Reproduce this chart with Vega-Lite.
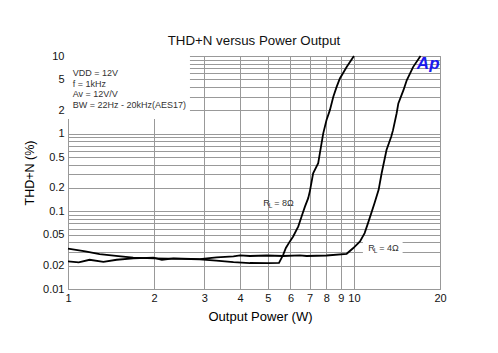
{
  "$schema": "https://vega.github.io/schema/vega-lite/v6.json",
  "width": 372,
  "height": 233,
  "autosize": {"type": "none"},
  "padding": {"left": 68, "top": 56, "right": 58, "bottom": 64},
  "background": "white",
  "title": {"text": "THD+N versus Power Output", "fontSize": 13.3, "fontWeight": "normal", "font": "Liberation Sans", "offset": 3, "color": "#111"},
  "config": {
    "view": {"stroke": "#888", "strokeWidth": 1},
    "font": "Liberation Sans"
  },
  "datasets": {
    "curves": [
      {"load": "8", "power": 1.0, "thdn": 0.033},
      {"load": "8", "power": 1.15, "thdn": 0.0305},
      {"load": "8", "power": 1.29, "thdn": 0.0282},
      {"load": "8", "power": 1.5, "thdn": 0.0265},
      {"load": "8", "power": 1.69, "thdn": 0.0253},
      {"load": "8", "power": 2.0, "thdn": 0.0248},
      {"load": "8", "power": 2.5, "thdn": 0.0245},
      {"load": "8", "power": 2.89, "thdn": 0.024},
      {"load": "8", "power": 3.3, "thdn": 0.0232},
      {"load": "8", "power": 3.79, "thdn": 0.0222},
      {"load": "8", "power": 4.33, "thdn": 0.0216},
      {"load": "8", "power": 5.0, "thdn": 0.0215},
      {"load": "8", "power": 5.47, "thdn": 0.0217},
      {"load": "8", "power": 5.66, "thdn": 0.0277},
      {"load": "8", "power": 5.78, "thdn": 0.0337},
      {"load": "8", "power": 5.97, "thdn": 0.041},
      {"load": "8", "power": 6.13, "thdn": 0.0475},
      {"load": "8", "power": 6.39, "thdn": 0.064},
      {"load": "8", "power": 6.56, "thdn": 0.086},
      {"load": "8", "power": 6.74, "thdn": 0.115},
      {"load": "8", "power": 6.92, "thdn": 0.148},
      {"load": "8", "power": 7.02, "thdn": 0.185},
      {"load": "8", "power": 7.2, "thdn": 0.309},
      {"load": "8", "power": 7.5, "thdn": 0.416},
      {"load": "8", "power": 7.6, "thdn": 0.559},
      {"load": "8", "power": 7.81, "thdn": 1.01},
      {"load": "8", "power": 8.02, "thdn": 1.5},
      {"load": "8", "power": 8.24, "thdn": 2.01},
      {"load": "8", "power": 8.47, "thdn": 2.98},
      {"load": "8", "power": 8.7, "thdn": 4.0},
      {"load": "8", "power": 8.93, "thdn": 5.13},
      {"load": "8", "power": 9.43, "thdn": 7.2},
      {"load": "8", "power": 10.0, "thdn": 10.0},
      {"load": "4", "power": 1.0, "thdn": 0.0227},
      {"load": "4", "power": 1.09, "thdn": 0.022},
      {"load": "4", "power": 1.19, "thdn": 0.0238},
      {"load": "4", "power": 1.33, "thdn": 0.0223},
      {"load": "4", "power": 1.48, "thdn": 0.0238},
      {"load": "4", "power": 1.69, "thdn": 0.0248},
      {"load": "4", "power": 1.99, "thdn": 0.0253},
      {"load": "4", "power": 2.13, "thdn": 0.0238},
      {"load": "4", "power": 2.34, "thdn": 0.0248},
      {"load": "4", "power": 2.89, "thdn": 0.0243},
      {"load": "4", "power": 3.31, "thdn": 0.0255},
      {"load": "4", "power": 3.79, "thdn": 0.0263},
      {"load": "4", "power": 4.0, "thdn": 0.0271},
      {"load": "4", "power": 4.33, "thdn": 0.0266},
      {"load": "4", "power": 4.95, "thdn": 0.027},
      {"load": "4", "power": 5.66, "thdn": 0.0266},
      {"load": "4", "power": 6.47, "thdn": 0.0271},
      {"load": "4", "power": 6.83, "thdn": 0.0266},
      {"load": "4", "power": 8.02, "thdn": 0.027},
      {"load": "4", "power": 9.43, "thdn": 0.0284},
      {"load": "4", "power": 9.95, "thdn": 0.0337},
      {"load": "4", "power": 10.5, "thdn": 0.041},
      {"load": "4", "power": 10.9, "thdn": 0.0525},
      {"load": "4", "power": 11.2, "thdn": 0.0705},
      {"load": "4", "power": 11.5, "thdn": 0.0948},
      {"load": "4", "power": 11.8, "thdn": 0.127},
      {"load": "4", "power": 12.2, "thdn": 0.189},
      {"load": "4", "power": 12.5, "thdn": 0.309},
      {"load": "4", "power": 13.0, "thdn": 0.616},
      {"load": "4", "power": 13.5, "thdn": 0.913},
      {"load": "4", "power": 13.7, "thdn": 1.11},
      {"load": "4", "power": 14.1, "thdn": 1.82},
      {"load": "4", "power": 14.3, "thdn": 2.45},
      {"load": "4", "power": 14.9, "thdn": 3.63},
      {"load": "4", "power": 15.3, "thdn": 4.87},
      {"load": "4", "power": 16.1, "thdn": 7.2},
      {"load": "4", "power": 17.0, "thdn": 9.7},
      {"load": "4", "power": 17.1, "thdn": 10.0}
    ]
  },
  "layer": [
    {
      "data": {"values": [{}]},
      "mark": {"type": "rect", "fill": "white", "stroke": null},
      "encoding": {
        "x": {"datum": 1, "type": "quantitative", "scale": {"type": "log", "domain": [1, 20], "nice": false},
          "axis": {"values": [1, 2, 3, 4, 5, 6, 7, 8, 9, 10, 20], "format": "~g", "title": "Output Power  (W)", "grid": true, "gridColor": "#999", "gridWidth": 1, "ticks": false, "domain": false, "labelFlush": false, "labelOverlap": false, "labelFontSize": 11, "labelPadding": 3, "labelColor": "#111", "titleFontSize": 13, "titleFontWeight": "normal", "titleColor": "#000", "titlePadding": 7, "titleX": 192}},
        "x2": {"datum": 2.67},
        "y": {"datum": 1.55, "type": "quantitative", "scale": {"type": "log", "domain": [0.01, 10], "nice": false},
          "axis": {"values": [0.01, 0.02, 0.03, 0.04, 0.05, 0.06, 0.07, 0.08, 0.09, 0.1, 0.2, 0.3, 0.4, 0.5, 0.6, 0.7, 0.8, 0.9, 1, 2, 3, 4, 5, 6, 7, 8, 9, 10], "format": "~g",
            "labelExpr": "indexof([0.01, 0.02, 0.05, 0.1, 0.2, 0.5, 1, 2, 5, 10], datum.value) >= 0 ? datum.label : ''",
            "title": "THD+N (%)", "grid": true, "gridColor": "#999", "gridWidth": 1, "ticks": false, "domain": false, "labelOverlap": false, "labelFontSize": 11, "labelPadding": 4, "labelColor": "#111", "titleFontSize": 12.5, "titleFontWeight": "normal", "titleColor": "#000", "titlePadding": 6}},
        "y2": {"datum": 10}
      }
    },
    {
      "data": {"values": [{}]},
      "mark": {"type": "rect", "fill": "white", "stroke": null},
      "encoding": {
        "x": {"datum": 10.75, "type": "quantitative"},
        "x2": {"datum": 14.8},
        "y": {"datum": 0.0285, "type": "quantitative"},
        "y2": {"datum": 0.043}
      }
    },
    {
      "data": {"name": "curves"},
      "mark": {"type": "line", "color": "black", "strokeWidth": 1.8},
      "encoding": {
        "x": {"field": "power", "type": "quantitative"},
        "y": {"field": "thdn", "type": "quantitative"},
        "detail": {"field": "load"}
      }
    },
    {
      "data": {"values": [{}]},
      "mark": {"type": "text", "align": "left", "baseline": "top", "lineBreak": "\n", "lineHeight": 10.5, "fontSize": 9, "color": "#333"},
      "encoding": {
        "x": {"datum": 1.038, "type": "quantitative"},
        "y": {"datum": 6.74, "type": "quantitative"},
        "text": {"value": "VDD = 12V\nf = 1kHz\nAv = 12V/V\nBW = 22Hz - 20kHz(AES17)"}
      }
    },
    {
      "data": {"values": [{}]},
      "mark": {"type": "text", "align": "left", "baseline": "middle", "fontSize": 9, "color": "#333"},
      "encoding": {"x": {"datum": 4.82, "type": "quantitative"}, "y": {"datum": 0.1285, "type": "quantitative"}, "text": {"value": "R"}}
    },
    {
      "data": {"values": [{}]},
      "mark": {"type": "text", "align": "left", "baseline": "middle", "fontSize": 6.5, "dx": 5.5, "dy": 3, "color": "#333"},
      "encoding": {"x": {"datum": 4.82, "type": "quantitative"}, "y": {"datum": 0.1285, "type": "quantitative"}, "text": {"value": "L"}}
    },
    {
      "data": {"values": [{}]},
      "mark": {"type": "text", "align": "left", "baseline": "middle", "fontSize": 9, "dx": 11, "color": "#333"},
      "encoding": {"x": {"datum": 4.82, "type": "quantitative"}, "y": {"datum": 0.1285, "type": "quantitative"}, "text": {"value": "= 8Ω"}}
    },
    {
      "data": {"values": [{}]},
      "mark": {"type": "text", "align": "left", "baseline": "middle", "fontSize": 9, "color": "#333"},
      "encoding": {"x": {"datum": 11.22, "type": "quantitative"}, "y": {"datum": 0.0337, "type": "quantitative"}, "text": {"value": "R"}}
    },
    {
      "data": {"values": [{}]},
      "mark": {"type": "text", "align": "left", "baseline": "middle", "fontSize": 6.5, "dx": 5.5, "dy": 3, "color": "#333"},
      "encoding": {"x": {"datum": 11.22, "type": "quantitative"}, "y": {"datum": 0.0337, "type": "quantitative"}, "text": {"value": "L"}}
    },
    {
      "data": {"values": [{}]},
      "mark": {"type": "text", "align": "left", "baseline": "middle", "fontSize": 9, "dx": 11, "color": "#333"},
      "encoding": {"x": {"datum": 11.22, "type": "quantitative"}, "y": {"datum": 0.0337, "type": "quantitative"}, "text": {"value": "= 4Ω"}}
    },
    {
      "data": {"values": [{}]},
      "mark": {"type": "text", "align": "left", "baseline": "alphabetic", "fontSize": 17, "fontWeight": "bold", "fontStyle": "italic", "color": "#1a1aee"},
      "encoding": {"x": {"datum": 16.6, "type": "quantitative"}, "y": {"datum": 6.74, "type": "quantitative"}, "text": {"value": "Ap"}}
    }
  ]
}
